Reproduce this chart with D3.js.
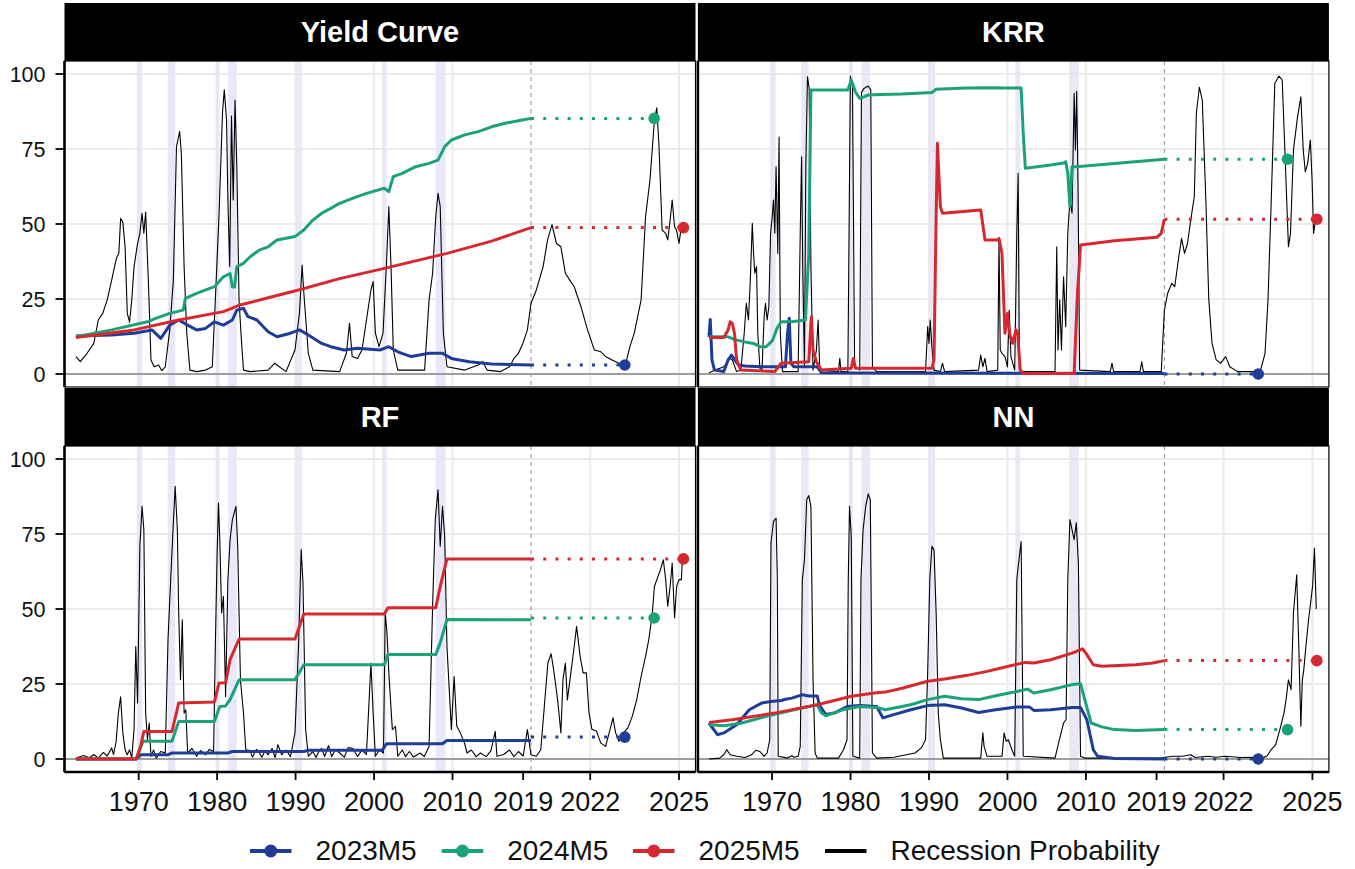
<!DOCTYPE html>
<html>
<head>
<meta charset="utf-8">
<script src="https://cdn.jsdelivr.net/npm/d3@7"></script>
<style>
    body { margin: 0; background: #fff; }
    svg { display: block; }
</style>
</head>
<body>
<svg id="chart" width="1355" height="869"></svg>
<script>
(function () {
    'use strict';

    // ---- data ----
    const panelTitles = ['Yield Curve', 'KRR', 'RF', 'NN'];
    const seriesNames = ['2023M5', '2024M5', '2025M5'];
    const seriesColors = ['#1f3c96', '#1ba27a', '#d7282f'];
    const forecastYears = [2023.17, 2024.16, 2025.15];
    const xTicks = [1970, 1980, 1990, 2000, 2010, 2019, 2022, 2025];
    const xGrid = [1970, 1980, 1990, 2000, 2010, 2022, 2025];
    const yTicks = [0, 25, 50, 75, 100];
    const recessions = [[1969.75, 1970.45], [1973.7, 1974.65], [1979.8, 1980.3], [1981.4, 1982.5],
        [1990.0, 1990.8], [2001.0, 2001.6], [2007.86, 2009.1]];

    const ycProb = [[1962.00,5.8],[1962.57,4.1],[1963.42,6.9],[1964.28,10.2],[1964.85,18],[1965.42,20.2],[1965.99,24.7],[1966.56,31.3],[1967.01,36.9],[1967.24,39.1],[1967.47,40.2],[1967.70,51.8],[1967.98,50.7],[1968.27,42.4],[1968.55,20.2],[1968.84,17.3],[1969.12,24.7],[1969.41,35.8],[1969.86,43.5],[1970.15,46.9],[1970.43,53.6],[1970.66,46.9],[1970.89,54],[1971.23,31.3],[1971.57,4.7],[1971.97,2.4],[1972.54,3],[1972.94,1.1],[1973.39,2.4],[1973.96,14.7],[1974.42,31.3],[1974.82,75.8],[1974.99,78],[1975.22,80.8],[1975.44,73.6],[1975.79,35.8],[1976.13,13.6],[1976.53,1.3],[1977.38,0.8],[1978.52,1.3],[1979.38,2.4],[1979.77,24.7],[1980.23,52.4],[1980.69,87.4],[1980.91,94.7],[1981.20,84.7],[1981.37,58],[1981.60,35.8],[1981.83,86],[1982.05,58],[1982.28,91.3],[1982.51,69.1],[1982.79,24.7],[1983.08,11.8],[1983.36,1.3],[1984.22,0.8],[1986.50,1.3],[1987.35,3.6],[1987.92,2.4],[1988.78,0.8],[1989.92,8],[1990.49,20.2],[1990.83,36.3],[1991.05,26.9],[1991.62,6.9],[1992.20,1.3],[1995.61,0.8],[1996.47,6.9],[1996.87,16.9],[1997.21,5.8],[1997.89,5.2],[1998.46,8],[1999.03,18],[1999.60,28],[1999.88,30.8],[2000.17,13.6],[2000.63,9.1],[2001.14,13.6],[2001.60,38],[2001.88,55.8],[2002.16,35.8],[2002.45,8],[2003.02,1.3],[2006.44,1.3],[2007.01,24.7],[2007.46,33.6],[2007.86,52.4],[2008.15,60.2],[2008.43,55.8],[2008.83,13.6],[2009.29,2.4],[2011.56,1.3],[2013.27,3],[2013.84,4.1],[2014.41,1.3],[2016.12,0.8],[2017.26,2.4],[2017.83,5.2],[2018.40,6.9],[2018.97,10.2],[2019.54,14.7],[2020.00,23.6],[2020.18,28],[2020.41,35.8],[2020.56,44.7],[2020.71,49.8],[2020.86,43.5],[2021.01,42.4],[2021.16,33.6],[2021.31,31.3],[2021.46,29.1],[2021.69,22.4],[2021.91,14.7],[2022.14,8],[2022.36,7.4],[2022.52,5.8],[2022.74,4.7],[2022.97,3.6],[2023.19,3],[2023.34,9.1],[2023.49,13.6],[2023.72,24.7],[2023.87,52.4],[2024.02,64.7],[2024.17,84.7],[2024.25,88.7],[2024.32,76.9],[2024.43,48],[2024.55,46.9],[2024.62,44.7],[2024.70,51.3],[2024.77,58],[2024.85,49.1],[2024.92,47.8],[2025.00,43.5],[2025.08,49.1],[2025.12,47.8]];
    const yc2023 = [[1962.00,12.7],[1966.56,13],[1969.41,13.6],[1971.69,14.7],[1972.82,11.9],[1973.96,16.3],[1975.10,18],[1976.24,16.3],[1977.38,14.7],[1978.52,15.2],[1979.66,17.4],[1980.80,16.3],[1981.94,18],[1982.51,21.3],[1983.36,21.9],[1983.93,19.1],[1985.07,18],[1986.50,14.1],[1987.64,12.4],[1989.35,13.6],[1990.49,14.7],[1991.62,13],[1993.33,10.2],[1994.47,9.1],[1996.18,8],[1997.89,8.6],[2000.74,8],[2001.88,9.1],[2003.02,7.4],[2004.73,5.8],[2007.01,6.9],[2008.72,6.9],[2009.85,5.2],[2012.13,4.1],[2014.98,3.3],[2020.00,3]];
    const yc2024 = [[1962.00,12.4],[1966.56,14.7],[1971.12,17.4],[1972.25,18.6],[1973.96,20.2],[1975.67,21.3],[1975.96,25.2],[1977.38,26.9],[1979.66,29.1],[1980.80,32.4],[1981.65,33.5],[1981.94,29],[1982.22,29],[1982.51,35.8],[1983.36,36.9],[1984.22,39.1],[1985.36,41.3],[1986.50,42.4],[1987.64,44.7],[1989.92,45.8],[1991.05,48],[1992.20,51.3],[1993.33,53.6],[1994.47,55.2],[1995.61,56.9],[1997.32,58.6],[1999.03,60.2],[2001.31,61.9],[2001.88,60.8],[2002.45,65.8],[2003.59,66.9],[2005.30,69.1],[2007.01,70.2],[2008.15,71.3],[2009.00,75.8],[2009.85,78],[2011.56,79.7],[2013.27,80.8],[2014.98,82.4],[2016.69,83.6],[2018.40,84.4],[2020.00,85.2]];
    const yc2025 = [[1962.00,12.2],[1969.41,14.7],[1975.10,18],[1980.80,20.8],[1982.79,22.9],[1986.50,25.4],[1990.37,28],[1995.61,31.8],[2001.31,35.2],[2009.29,40.2],[2014.98,44.3],[2020.00,48.8]];
    const ycDots = [3, 85.2, 48.8];

    const krrProb = [[1961.96,0.4],[1962.77,1.3],[1963.85,2.4],[1964.66,5.2],[1964.93,4.7],[1965.48,0.8],[1966.02,1.3],[1966.45,13.6],[1966.72,23.6],[1966.99,18],[1967.21,30.2],[1967.48,50.2],[1967.64,40.2],[1967.80,33.6],[1968.02,35.8],[1968.18,13.6],[1968.45,1.9],[1968.72,1.3],[1968.99,19.1],[1969.16,23.6],[1969.37,18],[1969.59,22.4],[1969.81,46.9],[1970.02,52.4],[1970.18,58],[1970.35,46.9],[1970.51,69.1],[1970.73,40.2],[1970.89,79],[1971.05,13.6],[1971.32,0.8],[1973.32,0.8],[1973.59,46.9],[1973.76,72.4],[1973.92,33.6],[1974.13,2.4],[1974.30,69.1],[1974.51,99.1],[1974.73,95.2],[1974.95,35.8],[1975.22,1.3],[1975.65,8],[1975.87,18],[1976.08,1.3],[1978.46,0.8],[1978.63,5.2],[1978.79,0.8],[1979.66,0.8],[1979.98,99.3],[1980.25,95.6],[1980.52,2.4],[1981.17,1.3],[1981.39,93.8],[1981.71,95.2],[1982.25,96],[1982.58,94.7],[1982.79,2.4],[1983.33,0.8],[1989.56,0.8],[1989.83,15.8],[1990.00,10.2],[1990.15,18],[1990.37,9.1],[1990.64,1.3],[1991.45,0.8],[1991.72,3.6],[1991.99,0.8],[1996.32,1.3],[1996.59,6.3],[1996.86,2.4],[1997.13,5.2],[1997.40,0.8],[1998.76,1.3],[1998.92,44.7],[1999.08,8],[1999.30,6.9],[1999.68,5.8],[2000.00,2.4],[2000.22,21.3],[2000.44,5.8],[2000.92,1.3],[2001.19,47],[2001.36,66.9],[2001.52,1.3],[2001.74,0.8],[2006.06,0.8],[2006.28,42.4],[2006.44,8],[2006.66,24.7],[2006.88,8],[2007.15,32.4],[2007.42,15.8],[2007.69,47],[2007.96,58],[2008.23,53.6],[2008.50,93.6],[2008.66,74.7],[2008.82,94.2],[2008.99,63.6],[2009.20,1.3],[2013.10,0.8],[2013.32,3.6],[2013.53,0.8],[2016.89,0.8],[2017.11,4.1],[2017.32,0.8],[2019.60,0.8],[2020.00,21.3],[2020.11,26.9],[2020.25,30.2],[2020.35,29.1],[2020.47,38],[2020.58,45.2],[2020.68,40.2],[2020.78,43.5],[2020.89,51.3],[2021.01,59.1],[2021.08,86.9],[2021.18,95.6],[2021.28,91.3],[2021.40,58],[2021.50,24.7],[2021.61,10.2],[2021.75,4.7],[2021.90,3.6],[2022.07,5.8],[2022.21,2.4],[2022.47,0.8],[2023.04,0.8],[2023.25,1.3],[2023.40,6.9],[2023.50,24.7],[2023.61,58],[2023.73,96.9],[2023.87,99.3],[2023.98,98],[2024.07,74.7],[2024.19,42.4],[2024.26,46.9],[2024.36,74.7],[2024.50,85.8],[2024.61,92.4],[2024.69,74.7],[2024.76,67.4],[2024.84,70.2],[2024.93,78],[2024.99,64.7],[2025.04,46.9],[2025.12,52.4]];
    const krr2023 = [[1961.96,12.4],[1962.12,18.2],[1962.34,4.7],[1962.66,1.3],[1963.85,0.8],[1964.39,4.7],[1964.83,6.3],[1965.21,4.7],[1965.75,3],[1966.56,2.7],[1968.72,2.4],[1971.70,2.4],[1971.97,13.6],[1972.19,18.6],[1972.40,3.6],[1972.78,2.4],[1975.76,2.4],[1976.30,0.4],[2020.00,0.2]];
    const krr2024 = [[1961.96,12.4],[1964.39,12.4],[1965.48,11.3],[1966.56,10.7],[1967.64,10.2],[1968.45,9.1],[1969.26,9.1],[1970.08,11.3],[1970.62,15.2],[1971.16,17.4],[1972.51,17.4],[1974.24,18],[1974.68,40],[1974.95,94.7],[1978.46,94.7],[1979.66,94.7],[1980.09,98],[1980.63,94],[1981.17,91.9],[1981.71,92.4],[1982.25,93],[1983.88,93.2],[1986.58,93.3],[1990.37,93.8],[1990.91,94.9],[1994.70,95.3],[1997.40,95.4],[2000.11,95.3],[2001.74,95.3],[2002.01,80.2],[2002.28,68.6],[2005.52,69.7],[2007.15,70.3],[2007.42,70.8],[2007.69,66.9],[2007.96,55.8],[2008.23,69.1],[2008.77,69.1],[2013.64,70.2],[2020.00,71.6]];
    const krr2025 = [[1961.96,12.2],[1963.85,12.2],[1964.39,14.7],[1964.66,17.4],[1964.93,16.9],[1965.21,13.6],[1965.48,4.7],[1966.02,1.3],[1970.35,0.8],[1971.16,3.6],[1974.68,4.1],[1975.00,19.1],[1975.22,8],[1975.65,4.1],[1976.30,1.3],[1980.09,1.9],[1980.36,5.2],[1980.63,1.9],[1990.37,1.9],[1990.64,4.7],[1990.91,52.4],[1991.07,76.9],[1991.45,55.8],[1991.72,53.6],[1996.59,54.7],[1997.13,44.7],[1998.76,44.7],[1998.92,45.2],[1999.30,40.2],[1999.68,13.6],[2000.00,20.2],[2000.27,13.6],[2000.65,10.2],[2001.09,14.7],[2001.30,13.6],[2001.63,1.3],[2002.01,0.2],[2008.50,0.2],[2008.88,24.7],[2009.31,43],[2013.64,44.4],[2019.06,45.6],[2019.60,46.9],[2020.00,51.6]];
    const krrDots = [0, 71.6, 51.6];

    const rfProb = [[1962.00,0.3],[1963.00,1.2],[1963.71,0.4],[1964.30,1.5],[1964.85,0.3],[1965.50,2.2],[1965.99,1],[1966.56,3.7],[1966.80,1.5],[1967.13,5.9],[1967.41,15.3],[1967.70,20.7],[1967.98,8.7],[1968.27,3.1],[1968.55,1.4],[1968.84,3.1],[1969.12,0.3],[1969.41,9.8],[1969.63,37.5],[1969.86,18.7],[1970.15,70.9],[1970.43,84.2],[1970.66,76.4],[1970.89,15.3],[1971.12,6.4],[1971.34,12],[1971.57,0.9],[1971.90,3],[1972.25,0.3],[1972.80,2.5],[1973.39,2],[1973.74,39.8],[1974.08,59.8],[1974.42,78.7],[1974.65,90.9],[1974.93,76.4],[1975.10,48.7],[1975.33,26.4],[1975.56,46.4],[1975.79,15.3],[1976.01,16.4],[1976.24,2],[1976.80,3.5],[1977.38,0.9],[1977.90,2.8],[1978.52,1.4],[1979.00,3.2],[1979.55,2.5],[1979.77,37.5],[1980.00,68.7],[1980.17,85.3],[1980.34,73.1],[1980.57,48.7],[1980.80,54.2],[1981.08,20.8],[1981.37,59.8],[1981.65,73.1],[1981.94,79.8],[1982.40,84.2],[1982.62,70.9],[1982.97,26.4],[1983.36,15.3],[1983.65,3.1],[1984.22,2.8],[1984.50,0.6],[1985.00,3.2],[1985.36,2.2],[1985.70,0.6],[1986.10,2.6],[1986.50,1.4],[1987.00,3.5],[1987.40,0.5],[1987.75,4.8],[1988.21,1.4],[1988.78,3],[1989.35,0.8],[1989.92,8.7],[1990.37,37.5],[1990.71,69.8],[1990.94,58.7],[1991.28,9.8],[1991.62,0.9],[1992.20,2.5],[1992.60,0.5],[1993.00,2.8],[1993.33,3.5],[1993.70,0.8],[1994.19,4.5],[1994.60,0.8],[1995.10,3.2],[1995.61,2],[1996.20,0.6],[1996.70,3.8],[1997.32,3.5],[1997.89,0.8],[1998.46,3],[1999.03,1.5],[1999.60,32],[1999.88,15.3],[2000.17,0.9],[2000.70,3],[2001.20,2],[2001.42,48.7],[2001.65,41.9],[2001.88,28.7],[2002.33,9.8],[2002.73,10.9],[2003.02,0.9],[2003.60,3],[2004.00,0.8],[2004.50,2.5],[2005.00,0.7],[2005.87,2],[2006.40,0.8],[2007.01,4.2],[2007.46,50.9],[2007.80,79.8],[2008.15,89.7],[2008.43,70.9],[2008.72,84.2],[2009.00,74.2],[2009.29,37.5],[2009.85,9.8],[2010.20,27.5],[2010.54,10.9],[2011.00,8.7],[2011.56,5],[2011.85,2],[2012.40,3],[2013.00,0.8],[2013.56,2],[2014.30,0.8],[2014.90,2.8],[2015.44,9.2],[2015.66,0.9],[2016.50,1.5],[2017.26,3],[2017.83,0.8],[2018.40,2.5],[2019.00,1],[2019.54,9.8],[2020.00,1.4],[2020.18,0.9],[2020.33,3.1],[2020.45,17.5],[2020.57,32],[2020.68,35.1],[2020.78,28.7],[2020.90,19.7],[2021.01,8.7],[2021.08,26.4],[2021.16,32],[2021.23,19.7],[2021.36,29.8],[2021.46,37.5],[2021.54,44.2],[2021.66,34.2],[2021.76,28.7],[2021.87,28.7],[2021.96,15.3],[2022.06,9.8],[2022.21,9.3],[2022.36,5.3],[2022.52,4.2],[2022.67,9.8],[2022.77,13.7],[2022.86,8.7],[2022.97,5.9],[2023.12,8.7],[2023.27,10.3],[2023.42,14.2],[2023.57,19.7],[2023.72,27.5],[2023.87,34.2],[2023.98,39.8],[2024.10,48.7],[2024.17,57.5],[2024.25,59.8],[2024.37,63],[2024.47,66.4],[2024.55,59.8],[2024.62,50.9],[2024.70,57.5],[2024.77,65.3],[2024.85,47],[2024.92,57.5],[2025.00,59.8],[2025.08,59.8],[2025.12,67.5]];
    const rf2023 = [[1962.00,0],[1969.69,0],[1970.26,1.4],[1973.68,1.4],[1974.25,2],[1981.37,2],[1981.94,2.5],[1991.05,2.5],[1991.62,2.9],[2001.02,2.9],[2001.59,5.1],[2008.72,5.1],[2009.29,6.2],[2020.00,6.2]];
    const rf2024 = [[1962.00,0],[1969.69,0],[1970.55,5.9],[1974.25,5.9],[1975.10,12.5],[1979.66,12.5],[1980.34,17.5],[1981.08,17.7],[1981.65,19.8],[1982.79,26.4],[1989.92,26.4],[1991.05,31.4],[2001.31,31.4],[2001.76,34.8],[2007.86,34.8],[2008.43,38.7],[2009.29,46.5],[2020.00,46.4]];
    const rf2025 = [[1962.00,0],[1969.69,0],[1970.26,4.3],[1970.66,9.2],[1974.25,9.2],[1975.10,18.7],[1979.66,19],[1980.23,25.3],[1981.08,25.4],[1981.65,33.1],[1982.79,40],[1989.92,40],[1991.05,48.3],[2001.31,48.3],[2001.76,50.4],[2007.86,50.4],[2008.43,57.5],[2009.29,66.7],[2020.00,66.7]];
    const rfDots = [7.3, 47, 66.7];

    const nnProb = [[1961.96,0],[1963.31,0.3],[1963.85,1.4],[1964.23,3.1],[1964.66,1.4],[1965.48,0.9],[1966.56,0.5],[1967.37,1.4],[1967.91,2.9],[1968.45,2.5],[1968.99,0.9],[1969.37,2],[1969.70,6.4],[1969.86,72],[1970.18,79.2],[1970.51,80.3],[1970.67,59.8],[1970.78,0.9],[1971.97,0.3],[1972.51,1.1],[1972.78,0.6],[1973.32,0.9],[1973.59,4.2],[1973.86,59.8],[1974.13,66.4],[1974.41,86.4],[1974.68,87.8],[1974.95,84.2],[1975.22,26.4],[1975.49,2],[1975.76,0.3],[1978.46,0.3],[1979.11,3.1],[1979.55,6.4],[1979.71,59.8],[1979.87,84.2],[1980.09,74.2],[1980.30,0.9],[1981.17,0.3],[1981.33,59.8],[1981.60,76.4],[1981.93,84.2],[1982.25,88.4],[1982.52,86.4],[1982.79,2],[1983.33,0.3],[1985.50,0.6],[1987.12,1.4],[1988.21,2],[1989.02,3.7],[1989.56,6.4],[1989.83,28.7],[1990.10,59.8],[1990.37,70.9],[1990.64,69.7],[1990.91,48.7],[1991.18,15.3],[1991.45,6.4],[1991.83,0.3],[1996.59,0.3],[1996.86,8.7],[1997.02,4.2],[1997.40,0.9],[1999.30,0.9],[1999.57,8.7],[1999.84,5.9],[2000.11,6.4],[2000.65,2.5],[2000.92,0.9],[2001.19,59.8],[2001.47,66.4],[2001.74,72.5],[2002.01,0.9],[2006.06,0.3],[2006.61,6.4],[2007.15,12],[2007.47,13.1],[2007.69,59.8],[2007.96,79.8],[2008.23,76.4],[2008.50,73.1],[2008.77,78.7],[2009.04,65.3],[2009.31,0.9],[2009.85,0.3],[2019.60,0.3],[2020.00,0.6],[2020.32,0.9],[2020.61,0.9],[2020.89,1.4],[2021.04,0.5],[2021.47,0.9],[2021.75,0.6],[2022.04,0.9],[2022.61,0.5],[2023.04,0.6],[2023.33,0.3],[2023.47,1.1],[2023.61,3.1],[2023.76,4.8],[2023.90,9.8],[2024.04,15.3],[2024.11,19.7],[2024.19,26.4],[2024.28,23.1],[2024.36,48.7],[2024.47,61.4],[2024.54,37.5],[2024.61,10.9],[2024.66,26.4],[2024.71,29.8],[2024.78,37.5],[2024.87,46.4],[2024.94,52],[2025.01,58],[2025.07,70.3],[2025.13,50]];
    const nn2023 = [[1961.96,12],[1963.04,8.1],[1963.85,8.7],[1965.48,11.4],[1967.10,16.4],[1968.72,18.7],[1969.81,19.2],[1971.16,19.5],[1971.70,19.9],[1972.51,20.3],[1973.86,21.4],[1974.68,21],[1975.76,21],[1976.03,18],[1976.84,14.8],[1977.92,15.3],[1979.55,17.5],[1981.17,17.8],[1983.33,17.5],[1984.14,13.7],[1985.50,14.8],[1987.67,16.4],[1989.83,17.8],[1991.99,18.1],[1994.16,17],[1996.32,15.5],[1998.49,16.4],[2001.19,17.3],[2002.82,17.3],[2003.36,16.2],[2005.52,16.4],[2008.23,17.2],[2009.31,17.2],[2010.12,13.1],[2010.94,3.1],[2011.48,0.9],[2013.64,0.2],[2020.00,0]];
    const nn2024 = [[1961.96,11.4],[1963.85,11.1],[1966.02,11.9],[1969.26,14.2],[1971.97,15.9],[1974.68,17.5],[1975.76,18.1],[1976.30,15.3],[1976.84,14.4],[1979.00,16.4],[1981.17,17.5],[1983.33,17.2],[1984.42,16.4],[1987.67,18.1],[1989.83,19.8],[1991.99,20.9],[1994.16,20.1],[1996.32,19.8],[1998.49,21.1],[2001.19,22.5],[2002.55,23.3],[2003.36,22],[2005.52,23.1],[2008.23,24.8],[2009.31,25.1],[2009.85,19.8],[2010.67,12],[2012.02,10.7],[2013.64,9.8],[2016.35,9.5],[2020.00,9.8]];
    const nn2025 = [[1961.96,12.2],[1964.93,13.1],[1970.35,15.3],[1975.76,18.1],[1980.09,20.9],[1983.06,22],[1984.42,22.3],[1986.58,23.6],[1989.83,25.9],[1991.99,26.7],[1994.70,27.8],[1997.40,29.2],[2000.11,30.9],[2002.28,32.2],[2003.36,32],[2005.52,33.1],[2008.23,35.3],[2009.58,36.7],[2010.12,34.8],[2010.94,31.4],[2012.02,30.9],[2016.35,31.4],[2018.51,32],[2020.00,32.8]];
    const nnDots = [0, 9.8, 32.8];

    const cutoffYear = 2020;

    // ---- layout ----
    const fontFamily = '"Liberation Sans", Arial, Helvetica, sans-serif';
    const panelW = 631;
    const panelH = 326;
    const stripH = 58;
    const colX = [64.5, 697.9];
    const rowY = [61, 446];

    const panels = [
        { title: panelTitles[0], prob: ycProb, series: [yc2023, yc2024, yc2025], dots: ycDots, col: 0, row: 0 },
        { title: panelTitles[1], prob: krrProb, series: [krr2023, krr2024, krr2025], dots: krrDots, col: 1, row: 0 },
        { title: panelTitles[2], prob: rfProb, series: [rf2023, rf2024, rf2025], dots: rfDots, col: 0, row: 1 },
        { title: panelTitles[3], prob: nnProb, series: [nn2023, nn2024, nn2025], dots: nnDots, col: 1, row: 1 },
    ];

    // broken axis: history squeezed, post-2020 stretched
    const x = d3.scaleLinear().domain([1962, cutoffYear, 2025]).range([11.4, 466.5, 614.5]);
    const y = d3.scaleLinear().domain([0, 100]).range([313, 13]);
    const line = d3.line().x((d) => x(d[0])).y((d) => y(d[1]));

    const svg = d3.select('#chart');
    svg.append('rect').attr('width', 1355).attr('height', 869).attr('fill', '#fff');
    const defs = svg.append('defs');
    defs.append('clipPath').attr('id', 'panel-clip')
        .append('rect').attr('width', panelW).attr('height', panelH);

    panels.forEach((p) => {
        const px = colX[p.col];
        const py = rowY[p.row];

        // strip
        svg.append('rect')
            .attr('x', px).attr('y', py - stripH)
            .attr('width', panelW).attr('height', stripH)
            .attr('fill', '#000');
        svg.append('text')
            .attr('x', px + panelW / 2)
            .attr('y', py - stripH + 39)
            .attr('text-anchor', 'middle')
            .attr('font-family', fontFamily)
            .attr('font-weight', 700)
            .attr('font-size', 29)
            .attr('fill', '#fff')
            .text(p.title);

        const g = svg.append('g').attr('transform', `translate(${px},${py})`);
        const body = g.append('g').attr('clip-path', 'url(#panel-clip)');

        body.append('rect').attr('width', panelW).attr('height', panelH).attr('fill', '#fff');

        body.selectAll('.hgrid').data(yTicks).enter().append('line')
            .attr('x1', 0).attr('x2', panelW)
            .attr('y1', (d) => y(d)).attr('y2', (d) => y(d))
            .attr('stroke', '#ebebeb').attr('stroke-width', 2);
        body.selectAll('.vgrid').data(xGrid).enter().append('line')
            .attr('x1', (d) => x(d)).attr('x2', (d) => x(d))
            .attr('y1', 0).attr('y2', panelH)
            .attr('stroke', '#ebebeb').attr('stroke-width', 2);

        body.selectAll('.rec').data(recessions).enter().append('rect')
            .attr('x', (d) => x(d[0]))
            .attr('width', (d) => x(d[1]) - x(d[0]))
            .attr('y', 0).attr('height', panelH)
            .attr('fill', '#e4e4f8').attr('opacity', 0.85);

        body.append('line')
            .attr('x1', 0).attr('x2', panelW)
            .attr('y1', y(0)).attr('y2', y(0))
            .attr('stroke', '#858585').attr('stroke-width', 1.3);

        body.append('line')
            .attr('x1', x(cutoffYear)).attr('x2', x(cutoffYear))
            .attr('y1', 0).attr('y2', panelH)
            .attr('stroke', '#9a9a9a').attr('stroke-width', 1.1)
            .attr('stroke-dasharray', '4,4');

        body.append('path')
            .datum(p.prob)
            .attr('d', line)
            .attr('fill', 'none')
            .attr('stroke', '#000')
            .attr('stroke-width', 1.1)
            .attr('stroke-linejoin', 'round');

        p.series.forEach((s, i) => {
            body.append('path')
                .datum(s)
                .attr('d', line)
                .attr('fill', 'none')
                .attr('stroke', seriesColors[i])
                .attr('stroke-width', 3)
                .attr('stroke-linejoin', 'round');
        });

        p.dots.forEach((v, i) => {
            body.append('path')
                .datum([[cutoffYear, v], [forecastYears[i], v]])
                .attr('d', line)
                .attr('fill', 'none')
                .attr('stroke', seriesColors[i])
                .attr('stroke-width', 3)
                .attr('stroke-dasharray', '3,9.2');
        });

        p.dots.forEach((v, i) => {
            body.append('circle')
                .attr('cx', x(forecastYears[i]))
                .attr('cy', y(v))
                .attr('r', 5.8)
                .attr('fill', seriesColors[i]);
        });

        // frame
        g.append('rect')
            .attr('width', panelW).attr('height', panelH)
            .attr('fill', 'none').attr('stroke', '#000').attr('stroke-width', 1.2);
        g.append('line')
            .attr('x1', 0).attr('x2', 0).attr('y1', 0).attr('y2', panelH)
            .attr('stroke', '#000').attr('stroke-width', 2.6);

        if (p.col === 0) {
            yTicks.forEach((t) => {
                g.append('line')
                    .attr('x1', -9).attr('x2', 0)
                    .attr('y1', y(t)).attr('y2', y(t))
                    .attr('stroke', '#000').attr('stroke-width', 1.8);
                g.append('text')
                    .attr('x', -19).attr('y', y(t))
                    .attr('dy', '0.36em')
                    .attr('text-anchor', 'end')
                    .attr('font-family', fontFamily)
                    .attr('font-size', 21.5)
                    .attr('fill', '#111')
                    .text(t);
            });
        }

        if (p.row === 1) {
            g.append('line')
                .attr('x1', 0).attr('x2', panelW)
                .attr('y1', panelH).attr('y2', panelH)
                .attr('stroke', '#000').attr('stroke-width', 2.6);
            xTicks.forEach((t) => {
                g.append('line')
                    .attr('x1', x(t)).attr('x2', x(t))
                    .attr('y1', panelH).attr('y2', panelH + 8)
                    .attr('stroke', '#000').attr('stroke-width', 1.8);
                g.append('text')
                    .attr('x', x(t)).attr('y', panelH + 39)
                    .attr('text-anchor', 'middle')
                    .attr('font-family', fontFamily)
                    .attr('font-size', 27)
                    .attr('fill', '#111')
                    .text(t);
            });
        }
    });

    // ---- legend ----
    const legendItems = seriesNames.map((name, i) => ({ name, color: seriesColors[i], dot: true }))
        .concat([{ name: 'Recession Probability', color: '#000', dot: false }]);
    const legendX = [250, 441.7, 633, 825];
    const legendY = 851;

    legendItems.forEach((item, i) => {
        const lg = svg.append('g').attr('transform', `translate(${legendX[i]},${legendY})`);
        lg.append('line')
            .attr('x1', 0).attr('x2', 41.5)
            .attr('y1', 0).attr('y2', 0)
            .attr('stroke', item.color).attr('stroke-width', 4);
        if (item.dot) {
            lg.append('circle').attr('cx', 20.8).attr('cy', 0).attr('r', 6.5).attr('fill', item.color);
        }
        lg.append('text')
            .attr('x', 65.5).attr('y', 9)
            .attr('font-family', fontFamily)
            .attr('font-size', 28)
            .attr('fill', '#111')
            .text(item.name);
    });
})();
</script>
</body>
</html>
